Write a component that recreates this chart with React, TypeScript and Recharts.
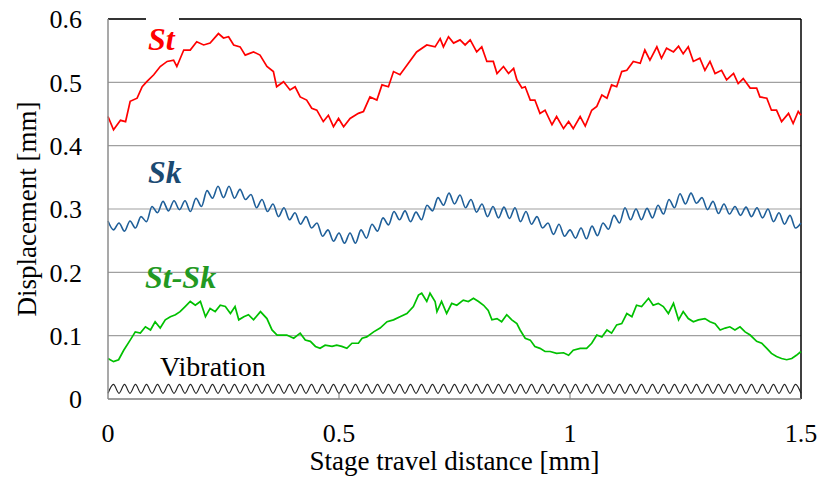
import { CartesianGrid, Line, LineChart, ReferenceLine, XAxis, YAxis } from 'recharts'

const FONT = '"Liberation Serif", "Times New Roman", serif'

const xTicks = [0, 0.5, 1, 1.5]
const yTicks = [0, 0.1, 0.2, 0.3, 0.4, 0.5, 0.6]

// St: total displacement
const stX = [
  0, 0.012, 0.027, 0.038, 0.048, 0.063, 0.074, 0.084, 0.099, 0.113, 0.128, 0.142, 0.149, 0.164, 0.178, 0.192,
  0.207, 0.221, 0.239, 0.25, 0.261, 0.272, 0.286, 0.297, 0.315, 0.329, 0.344, 0.358, 0.365, 0.38, 0.394, 0.405,
  0.416, 0.43, 0.441, 0.452, 0.466, 0.477, 0.488, 0.499, 0.51, 0.524, 0.542, 0.553, 0.567, 0.582, 0.593, 0.607,
  0.618, 0.632, 0.647, 0.668, 0.69, 0.708, 0.719, 0.726, 0.737, 0.748, 0.762, 0.773, 0.784, 0.798, 0.809, 0.82,
  0.834, 0.842, 0.856, 0.867, 0.878, 0.885, 0.896, 0.903, 0.914, 0.924, 0.935, 0.946, 0.961, 0.971, 0.986, 0.997,
  1.007, 1.022, 1.033, 1.047, 1.058, 1.069, 1.08, 1.09, 1.101, 1.112, 1.123, 1.137, 1.152, 1.162, 1.173, 1.188,
  1.198, 1.209, 1.224, 1.235, 1.245, 1.256, 1.267, 1.281, 1.292, 1.303, 1.314, 1.328, 1.339, 1.354, 1.364, 1.375,
  1.39, 1.404, 1.411, 1.426, 1.436, 1.447, 1.458, 1.473, 1.483, 1.494, 1.5,
]
const stY = [
  0.446, 0.425, 0.44, 0.438, 0.47, 0.475, 0.493, 0.501, 0.512, 0.525, 0.533, 0.535, 0.525, 0.551, 0.551, 0.564,
  0.559, 0.562, 0.577, 0.57, 0.572, 0.559, 0.556, 0.543, 0.548, 0.543, 0.525, 0.517, 0.493, 0.501, 0.488, 0.493,
  0.477, 0.472, 0.459, 0.456, 0.438, 0.448, 0.43, 0.443, 0.43, 0.443, 0.451, 0.454, 0.477, 0.472, 0.496, 0.493,
  0.517, 0.512, 0.527, 0.548, 0.559, 0.556, 0.569, 0.556, 0.572, 0.562, 0.567, 0.559, 0.567, 0.548, 0.556, 0.533,
  0.533, 0.514, 0.525, 0.514, 0.522, 0.504, 0.491, 0.493, 0.472, 0.472, 0.451, 0.456, 0.433, 0.446, 0.427, 0.438,
  0.427, 0.446, 0.431, 0.456, 0.462, 0.48, 0.475, 0.496, 0.493, 0.517, 0.519, 0.533, 0.53, 0.551, 0.535, 0.556,
  0.538, 0.554, 0.548, 0.557, 0.545, 0.556, 0.533, 0.538, 0.519, 0.533, 0.514, 0.519, 0.504, 0.514, 0.498, 0.506,
  0.491, 0.491, 0.477, 0.475, 0.456, 0.456, 0.438, 0.451, 0.435, 0.454, 0.448,
]

// Sk and vibration: sampled at every half period of the vibration
const waveX = Array.from({ length: 127 }, (_, i) => +((i * 1.5) / 126).toFixed(5))
const skY = [
  0.281, 0.267, 0.278, 0.265, 0.281, 0.27, 0.288, 0.28, 0.304, 0.294, 0.312, 0.297, 0.313, 0.299, 0.313, 0.296,
  0.317, 0.304, 0.329, 0.317, 0.336, 0.318, 0.336, 0.317, 0.331, 0.315, 0.323, 0.302, 0.315, 0.296, 0.308, 0.288,
  0.302, 0.283, 0.294, 0.276, 0.288, 0.27, 0.278, 0.257, 0.267, 0.249, 0.262, 0.246, 0.262, 0.246, 0.267, 0.254,
  0.276, 0.265, 0.286, 0.275, 0.296, 0.283, 0.297, 0.28, 0.295, 0.283, 0.306, 0.297, 0.318, 0.306, 0.325, 0.308,
  0.322, 0.302, 0.315, 0.295, 0.308, 0.288, 0.304, 0.286, 0.303, 0.285, 0.302, 0.28, 0.296, 0.276, 0.288, 0.27,
  0.278, 0.26, 0.276, 0.257, 0.267, 0.254, 0.27, 0.253, 0.273, 0.258, 0.278, 0.268, 0.29, 0.278, 0.302, 0.283,
  0.3, 0.283, 0.301, 0.286, 0.306, 0.292, 0.315, 0.302, 0.324, 0.308, 0.325, 0.309, 0.318, 0.299, 0.312, 0.293,
  0.308, 0.292, 0.304, 0.29, 0.303, 0.288, 0.302, 0.286, 0.3, 0.28, 0.294, 0.276, 0.29, 0.27, 0.278,
]
const vibY = [
  0.009, 0.023, 0.009, 0.023, 0.009, 0.023, 0.009, 0.023, 0.009, 0.023, 0.009, 0.023, 0.009, 0.023, 0.009, 0.023,
  0.009, 0.023, 0.009, 0.023, 0.009, 0.023, 0.009, 0.023, 0.009, 0.023, 0.009, 0.023, 0.009, 0.023, 0.009, 0.023,
  0.009, 0.023, 0.009, 0.023, 0.009, 0.023, 0.009, 0.023, 0.009, 0.023, 0.009, 0.023, 0.009, 0.023, 0.009, 0.023,
  0.009, 0.023, 0.009, 0.023, 0.009, 0.023, 0.009, 0.023, 0.009, 0.023, 0.009, 0.023, 0.009, 0.023, 0.009, 0.023,
  0.009, 0.023, 0.009, 0.023, 0.009, 0.023, 0.009, 0.023, 0.009, 0.023, 0.009, 0.023, 0.009, 0.023, 0.009, 0.023,
  0.009, 0.023, 0.009, 0.023, 0.009, 0.023, 0.009, 0.023, 0.009, 0.023, 0.009, 0.023, 0.009, 0.023, 0.009, 0.023,
  0.009, 0.023, 0.009, 0.023, 0.009, 0.023, 0.009, 0.023, 0.009, 0.023, 0.009, 0.023, 0.009, 0.023, 0.009, 0.023,
  0.009, 0.023, 0.009, 0.023, 0.009, 0.023, 0.009, 0.023, 0.009, 0.023, 0.009, 0.023, 0.009, 0.023, 0.009,
]

// St-Sk
const diffX = [
  0, 0.012, 0.023, 0.034, 0.048, 0.059, 0.07, 0.081, 0.092, 0.102, 0.113, 0.124, 0.135, 0.146, 0.156, 0.167,
  0.178, 0.189, 0.2, 0.211, 0.221, 0.232, 0.243, 0.254, 0.265, 0.275, 0.283, 0.294, 0.304, 0.315, 0.33, 0.344,
  0.355, 0.366, 0.376, 0.387, 0.402, 0.416, 0.427, 0.438, 0.449, 0.459, 0.47, 0.485, 0.495, 0.506, 0.517, 0.528,
  0.542, 0.55, 0.56, 0.575, 0.589, 0.604, 0.618, 0.632, 0.647, 0.661, 0.672, 0.679, 0.69, 0.697, 0.708, 0.712,
  0.722, 0.733, 0.744, 0.755, 0.769, 0.78, 0.791, 0.802, 0.813, 0.823, 0.831, 0.842, 0.852, 0.863, 0.874, 0.885,
  0.892, 0.903, 0.914, 0.924, 0.935, 0.946, 0.957, 0.971, 0.986, 0.997, 1.007, 1.022, 1.036, 1.047, 1.058, 1.069,
  1.08, 1.09, 1.101, 1.112, 1.123, 1.134, 1.144, 1.155, 1.17, 1.18, 1.191, 1.202, 1.213, 1.224, 1.235, 1.245,
  1.256, 1.267, 1.278, 1.292, 1.303, 1.314, 1.325, 1.336, 1.346, 1.357, 1.368, 1.379, 1.39, 1.404, 1.415, 1.426,
  1.436, 1.447, 1.458, 1.469, 1.48, 1.49, 1.5,
]
const diffY = [
  0.064, 0.059, 0.062, 0.077, 0.093, 0.106, 0.104, 0.114, 0.109, 0.122, 0.112, 0.125, 0.13, 0.133, 0.138, 0.146,
  0.154, 0.148, 0.154, 0.13, 0.143, 0.138, 0.148, 0.146, 0.135, 0.146, 0.125, 0.13, 0.133, 0.125, 0.138, 0.127,
  0.109, 0.101, 0.101, 0.101, 0.096, 0.104, 0.093, 0.091, 0.083, 0.08, 0.085, 0.083, 0.085, 0.083, 0.08, 0.088,
  0.088, 0.096, 0.098, 0.106, 0.112, 0.122, 0.125, 0.13, 0.135, 0.146, 0.164, 0.167, 0.154, 0.167, 0.154, 0.138,
  0.154, 0.135, 0.151, 0.148, 0.156, 0.154, 0.159, 0.154, 0.148, 0.14, 0.125, 0.127, 0.122, 0.133, 0.125, 0.119,
  0.109, 0.096, 0.093, 0.083, 0.08, 0.075, 0.075, 0.072, 0.073, 0.069, 0.077, 0.08, 0.08, 0.088, 0.101, 0.098,
  0.109, 0.104, 0.117, 0.119, 0.135, 0.13, 0.148, 0.146, 0.159, 0.148, 0.151, 0.146, 0.135, 0.151, 0.125, 0.138,
  0.127, 0.122, 0.125, 0.127, 0.122, 0.119, 0.109, 0.112, 0.114, 0.109, 0.114, 0.106, 0.101, 0.091, 0.088, 0.08,
  0.072, 0.067, 0.064, 0.062, 0.064, 0.069, 0.075,
]

const toPoints = (xs: number[], ys: number[]) => xs.map((x, i) => ({ x, y: ys[i] }))

const stData = toPoints(stX, stY)
const skData = toPoints(waveX, skY)
const diffData = toPoints(diffX, diffY)
const vibData = toPoints(waveX, vibY)

const labelBase = {
  position: 'absolute' as const,
  fontFamily: FONT,
  lineHeight: '32px',
  whiteSpace: 'nowrap' as const,
}

export default function App() {
  return (
    <div style={{ position: 'absolute', left: 0, top: 0, width: 825, height: 482, background: '#fff' }}>
      <LineChart width={825} height={482} margin={{ top: 19, right: 24, left: 0, bottom: 0 }}>
        <CartesianGrid horizontal vertical={false} stroke="#a0a0a0" strokeWidth={1.2} />
        <XAxis
          dataKey="x"
          type="number"
          domain={[0, 1.5]}
          ticks={xTicks}
          tickFormatter={(v) => String(v)}
          height={83}
          axisLine={{ stroke: '#8c8c8c', strokeWidth: 1.5 }}
          tickLine={false}
          tickSize={0}
          tickMargin={25}
          tick={{ fill: '#000', fontSize: 26, fontFamily: FONT }}
          label={{
            value: 'Stage travel distance [mm]',
            position: 'insideBottom',
            offset: 12,
            style: { fill: '#000', fontSize: 27, fontFamily: FONT },
          }}
        />
        <YAxis
          type="number"
          domain={[0, 0.6]}
          ticks={yTicks}
          tickFormatter={(v) => String(v)}
          width={108}
          axisLine={{ stroke: '#8c8c8c', strokeWidth: 1.5 }}
          tickLine={false}
          tickSize={0}
          tickMargin={26}
          tick={{ fill: '#000', fontSize: 26, fontFamily: FONT }}
          label={{
            value: 'Displacement [mm]',
            angle: -90,
            position: 'center',
            dx: -28,
            style: { fill: '#000', fontSize: 27, fontFamily: FONT, textAnchor: 'middle' },
          }}
        />
        <ReferenceLine y={0.6} stroke="#000" strokeWidth={1.5} />
        <ReferenceLine x={1.5} stroke="#000" strokeWidth={1.5} />
        {xTicks.slice(1, 3).map((t) => (
          <ReferenceLine
            key={t}
            segment={[{ x: t, y: 0 }, { x: t, y: 0.008 }]}
            stroke="#8c8c8c"
            strokeWidth={1.2}
          />
        ))}
        <Line data={vibData} dataKey="y" type="monotone" stroke="#222" strokeWidth={1.2} dot={false} isAnimationActive={false} />
        <Line data={diffData} dataKey="y" type="linear" stroke="#00c000" strokeWidth={1.7} dot={false} isAnimationActive={false} />
        <Line data={skData} dataKey="y" type="monotone" stroke="#1f5f99" strokeWidth={1.6} dot={false} isAnimationActive={false} />
        <Line data={stData} dataKey="y" type="linear" stroke="#ff0000" strokeWidth={1.7} dot={false} isAnimationActive={false} />
      </LineChart>

      <div
        style={{
          ...labelBase,
          left: 146,
          top: 15,
          paddingTop: 8,
          paddingRight: 4,
          paddingLeft: 2,
          background: '#fff',
          color: '#ff0000',
          fontSize: 32,
          fontWeight: 'bold',
          fontStyle: 'italic',
        }}
      >
        St
      </div>
      <div style={{ ...labelBase, left: 148, top: 156, color: '#1b4a72', fontSize: 32, fontWeight: 'bold', fontStyle: 'italic' }}>
        Sk
      </div>
      <div style={{ ...labelBase, left: 145, top: 261, color: '#229922', fontSize: 32, fontWeight: 'bold', fontStyle: 'italic' }}>
        St-Sk
      </div>
      <div style={{ ...labelBase, left: 160, top: 353, lineHeight: '28px', color: '#000', fontSize: 28 }}>
        Vibration
      </div>
    </div>
  )
}
